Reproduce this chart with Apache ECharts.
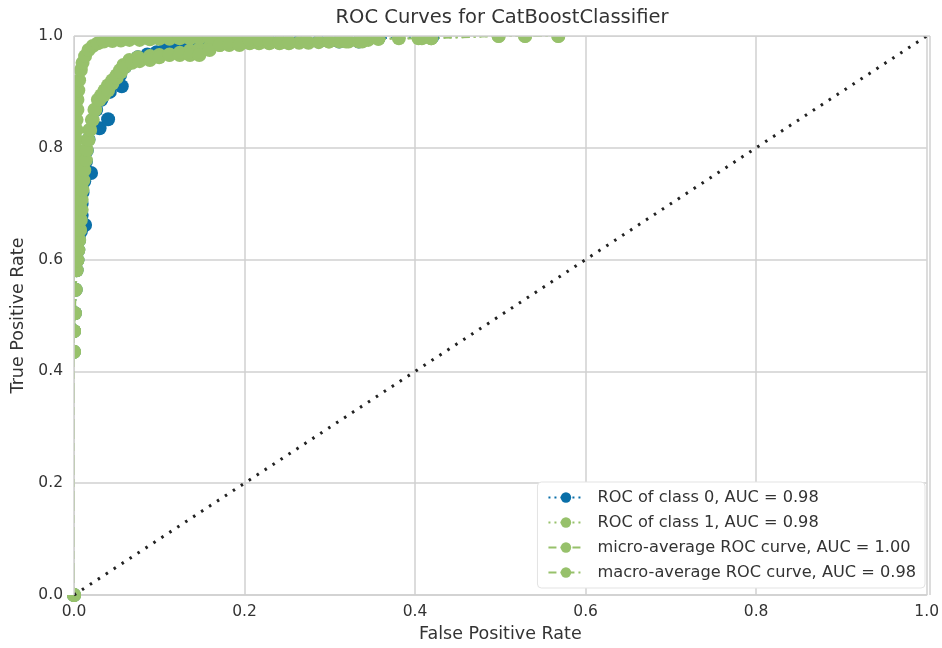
<!DOCTYPE html>
<html><head><meta charset="utf-8">
<script src="https://cdn.jsdelivr.net/npm/echarts@6/dist/echarts.min.js"></script>
<style>html,body{margin:0;padding:0;background:#fff}#c{width:942px;height:648px}</style>
</head><body><div id="c"></div>
<script>
const chartTitle = 'ROC Curves for CatBoostClassifier';
const xAxisName = 'False Positive Rate';
const yAxisName = 'True Positive Rate';
const seriesNames = [
  'ROC of class 0, AUC = 0.98',
  'ROC of class 1, AUC = 0.98',
  'micro-average ROC curve, AUC = 1.00',
  'macro-average ROC curve, AUC = 0.98'
];
const class0 = [[0,0],[0,0.435],[0,0.472],[0.001,0.504],[0.002,0.546],[0.003,0.581],[0.004,0.599],[0.005,0.617],[0.006,0.635],[0.008,0.65],[0.013,0.662],[0.009,0.68],[0.009,0.7],[0.01,0.72],[0.012,0.74],[0.02,0.755],[0.014,0.775],[0.015,0.795],[0.017,0.815],[0.03,0.835],[0.04,0.851],[0.026,0.868],[0.032,0.886],[0.042,0.9],[0.056,0.91],[0.054,0.93],[0.06,0.945],[0.065,0.953],[0.075,0.962],[0.086,0.967],[0.097,0.971],[0.106,0.975],[0.115,0.977],[0.124,0.979],[0.136,0.982],[0.147,0.986],[0.159,0.988],[0.171,0.989],[0.185,0.99],[0.2,0.996],[0.217,0.996],[0.229,0.99],[0.241,0.99],[0.264,0.99],[0.287,0.99],[0.311,0.99],[0.334,0.99],[0.357,0.996],[0.42,0.998]];
const class1 = [[0,0],[0,0.435],[0,0.472],[0.001,0.504],[0.002,0.546],[0.003,0.581],[0.004,0.599],[0.005,0.617],[0.006,0.635],[0.007,0.653],[0.007,0.671],[0.008,0.689],[0.008,0.707],[0.009,0.725],[0.01,0.742],[0.011,0.76],[0.013,0.778],[0.014,0.796],[0.016,0.814],[0.018,0.832],[0.021,0.85],[0.024,0.868],[0.028,0.886],[0.032,0.894],[0.036,0.903],[0.04,0.912],[0.045,0.921],[0.05,0.93],[0.054,0.939],[0.058,0.948],[0.065,0.957],[0.075,0.962],[0.089,0.964],[0.1,0.966],[0.112,0.967],[0.124,0.97],[0.136,0.974],[0.147,0.977],[0.159,0.98],[0.171,0.984],[0.182,0.985],[0.194,0.986],[0.206,0.987],[0.217,0.987],[0.229,0.987],[0.241,0.987],[0.252,0.987],[0.264,0.988],[0.275,0.988],[0.287,0.989],[0.299,0.99],[0.311,0.99],[0.322,0.99],[0.334,0.99],[0.345,0.993],[0.357,0.995],[0.381,0.996],[0.404,0.996],[0.419,0.996],[0.498,1],[0.529,1],[0.568,1]];
const microAvg = [[0,0],[0,0.435],[0,0.472],[0,0.504],[0,0.546],[0,0.581],[0,0.599],[0.001,0.617],[0.002,0.635],[0.002,0.653],[0.003,0.671],[0.003,0.689],[0.003,0.707],[0.003,0.725],[0.003,0.742],[0.003,0.76],[0.003,0.778],[0.003,0.796],[0.003,0.814],[0.003,0.832],[0.003,0.85],[0.004,0.868],[0.004,0.886],[0.005,0.903],[0.006,0.921],[0.008,0.939],[0.01,0.952],[0.013,0.964],[0.017,0.975],[0.022,0.982],[0.028,0.987],[0.035,0.99],[0.045,0.991],[0.055,0.992],[0.065,0.993],[0.077,0.993],[0.089,0.994],[0.1,0.995],[0.112,0.995],[0.124,0.996],[0.136,0.996],[0.147,0.997],[0.159,0.997],[0.171,0.998],[0.182,0.998],[0.194,0.998],[0.206,0.999],[0.22,1]];
const macroAvg = [[0,0],[0,0.435],[0,0.472],[0.001,0.504],[0.002,0.546],[0.003,0.581],[0.004,0.599],[0.005,0.617],[0.006,0.635],[0.007,0.653],[0.008,0.671],[0.009,0.689],[0.009,0.707],[0.01,0.725],[0.011,0.742],[0.012,0.76],[0.014,0.778],[0.015,0.796],[0.017,0.814],[0.019,0.832],[0.022,0.85],[0.025,0.868],[0.03,0.886],[0.035,0.894],[0.04,0.903],[0.045,0.915],[0.05,0.925],[0.055,0.935],[0.06,0.945],[0.068,0.952],[0.077,0.955],[0.089,0.957],[0.1,0.962],[0.112,0.966],[0.124,0.966],[0.136,0.966],[0.147,0.966],[0.159,0.975],[0.171,0.984],[0.182,0.984],[0.194,0.984],[0.206,0.993],[0.217,0.993],[0.229,0.99],[0.241,0.99],[0.252,0.99],[0.272,0.99],[0.299,0.99],[0.319,0.99],[0.338,0.99],[0.357,0.995],[0.408,0.996],[0.419,0.996],[0.498,1],[0.529,1],[0.568,1]];
const diagonal = [[0,0],[1,1]];

const GL = 74, GT = 36, GR = 930, GB = 595, W = 942, H = 648;
const BLUE = '#0a6fa8', GREEN = '#97c16b', GRID = '#d0d0d0', TXT = '#333333';
const FONT = 'DejaVu Sans';

const chart = echarts.init(document.getElementById('c'), null, {renderer: 'canvas'});
function lineSeries(name, data, color, dash) {
  return {
    name: name, type: 'line', data: data, color: color,
    symbol: 'circle', symbolSize: 14, showSymbol: true, showAllSymbol: true,
    lineStyle: {color: color, width: 2, type: dash},
    itemStyle: {color: color, borderWidth: 0},
    clip: true, silent: true, z: 2
  };
}
const axisCommon = {
  type: 'value', min: 0, max: 1, interval: 0.2,
  axisLine: {show: true, lineStyle: {color: GRID, width: 1.5}},
  axisTick: {show: false},
  splitLine: {show: true, lineStyle: {color: GRID, width: 1.5}},
  axisLabel: {color: TXT, fontSize: 15.5, fontFamily: FONT, formatter: v => v.toFixed(1)},
  nameLocation: 'middle',
  nameTextStyle: {color: TXT, fontSize: 17.5, fontFamily: FONT}
};
chart.setOption({
  animation: false,
  backgroundColor: '#ffffff',
  title: {text: chartTitle, left: 497, top: 3, textAlign: 'center',
    textStyle: {color: TXT, fontSize: 19.5, fontWeight: 'normal', fontFamily: FONT}},
  grid: {left: GL, top: GT, right: W - GR, bottom: H - GB, containLabel: false},
  xAxis: Object.assign({}, axisCommon, {name: xAxisName, nameGap: 30, axisLabel: Object.assign({}, axisCommon.axisLabel, {margin: 9})}),
  yAxis: Object.assign({}, axisCommon, {name: yAxisName, nameGap: 46, axisLabel: Object.assign({}, axisCommon.axisLabel, {margin: 11})}),
  legend: {
    orient: 'vertical', right: 17, bottom: 60,
    data: seriesNames,
    itemWidth: 35, itemHeight: 13, itemGap: 6,
    backgroundColor: '#ffffff', borderColor: '#e3e3e3', borderWidth: 1, borderRadius: 4,
    padding: [6, 9, 6, 10],
    textStyle: {color: TXT, fontSize: 16.2, fontFamily: FONT, lineHeight: 19, padding: [0, 0, 0, 9]}
  },
  series: [
    lineSeries(seriesNames[0], class0, BLUE, [2, 4]),
    lineSeries(seriesNames[1], class1, GREEN, [2, 4]),
    lineSeries(seriesNames[2], microAvg, GREEN, [8, 4]),
    lineSeries(seriesNames[3], macroAvg, GREEN, [8, 4, 2, 4]),
    {type: 'line', data: diagonal, symbol: 'none', silent: true, z: 3,
      lineStyle: {color: '#222222', width: 3, type: [2.5, 7]}}
  ],
  graphic: [
    {type: 'rect', z: 10, silent: true, shape: {x: GL - 10, y: GT - 9, width: GR - GL + 20, height: 9}, style: {fill: '#ffffff'}},
    {type: 'rect', z: 10, silent: true, shape: {x: GL - 9, y: GT - 9, width: 9, height: GB - GT + 9}, style: {fill: '#ffffff'}},
    {type: 'rect', z: 10, silent: true, shape: {x: GR, y: GT - 9, width: 10, height: GB - GT + 9}, style: {fill: '#ffffff'}},
    {type: 'line', z: 11, silent: true, shape: {x1: GL, y1: GT, x2: GR, y2: GT}, style: {stroke: GRID, lineWidth: 1.5}},
    {type: 'line', z: 11, silent: true, shape: {x1: GL, y1: GT, x2: GL, y2: GB}, style: {stroke: GRID, lineWidth: 1.5}},
    {type: 'line', z: 11, silent: true, shape: {x1: GR, y1: GT, x2: GR, y2: GB}, style: {stroke: GRID, lineWidth: 1.5}}
  ]
});
</script></body></html>
